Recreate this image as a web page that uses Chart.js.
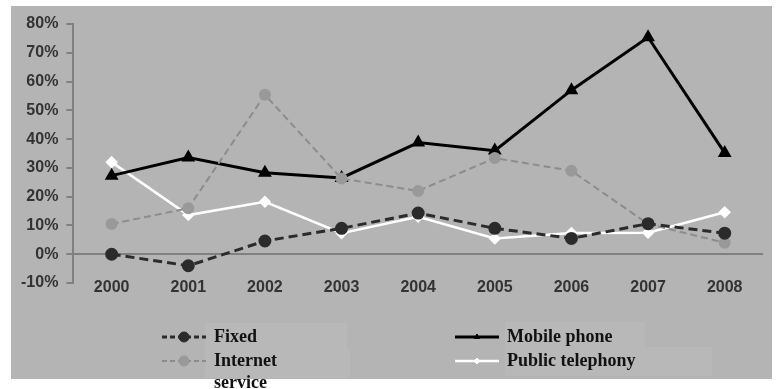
<!DOCTYPE html>
<html lang="en">
<head>
    <meta charset="UTF-8">
    <title>Growth by service</title>
    <style>
        body { margin: 0; background: #fff; }
        #wrap { width: 776px; height: 389px; position: relative; }
    </style>
</head>
<body>
    <div id="wrap"><canvas id="myChart"></canvas></div>
    <script src="https://cdn.jsdelivr.net/npm/chart.js"></script>
    <script>
  const years = ['2000', '2001', '2002', '2003', '2004', '2005', '2006', '2007', '2008'];
  const fixed = [0, -4, 4.6, 9, 14.3, 9, 5.5, 10.6, 7.3];
  const internet = [10.5, 16, 55.4, 26.3, 22, 33.4, 29, 10.5, 4];
  const mobile = [27.3, 33.6, 28.3, 26.5, 38.8, 36, 57, 75.4, 35.2];
  const publicPhone = [32, 13.6, 18.2, 7.3, 13, 5.5, 7.4, 7.5, 14.6];
  const yTicks = [-10, 0, 10, 20, 30, 40, 50, 60, 70, 80];

  // legend entries: [label lines, dataset index, column, row]
  const legendItems = [
    [['Fixed'], 0, 0, 0],
    [['Internet', 'service'], 1, 0, 1],
    [['Mobile phone'], 2, 1, 0],
    [['Public telephony'], 3, 1, 1]
  ];

  const panelPlugin = {
    id: 'panel',
    beforeDraw(chart) {
      const ctx = chart.ctx;
      ctx.save();
      ctx.fillStyle = '#b4b4b4';
      ctx.fillRect(11, 6, 761, 373);
      // faint boxes behind legend texts
      ctx.fillStyle = '#b8b8b8';
      ctx.fillRect(205, 323, 142, 27);
      ctx.fillRect(205, 350, 145, 28);
      ctx.fillRect(505, 322, 140, 25);
      ctx.fillRect(505, 347, 207, 29);
      ctx.restore();
    },
    afterDraw(chart) {
      const ctx = chart.ctx;
      const colX = [162, 455];
      const rowY = [337, 361];
      ctx.save();
      legendItems.forEach(([lines, di, col, row]) => {
        const ds = chart.data.datasets[di];
        const x = colX[col], y = rowY[row];
        ctx.beginPath();
        ctx.strokeStyle = ds.borderColor;
        ctx.lineWidth = ds.borderWidth;
        ctx.setLineDash(di < 2 ? [5, 3] : []);
        ctx.moveTo(x, y);
        ctx.lineTo(x + 44, y);
        ctx.stroke();
        ctx.setLineDash([]);
        ctx.fillStyle = ds.pointBackgroundColor;
        ctx.strokeStyle = ds.pointBorderColor;
        ctx.lineWidth = 1;
        Chart.helpers.drawPoint(ctx, {
          pointStyle: ds.pointStyle,
          radius: di < 2 ? 5 : 3,
          borderWidth: 1
        }, x + 22, y);
        ctx.fillStyle = '#111';
        ctx.font = 'bold 18px "Liberation Serif", serif';
        ctx.textBaseline = 'middle';
        lines.forEach((t, i) => ctx.fillText(t, x + 52, y + i * 22));
      });
      ctx.restore();
    }
  };

  new Chart(document.getElementById('myChart'), {
    type: 'line',
    data: {
      labels: years,
      datasets: [
        {
          label: 'Fixed', data: fixed,
          borderColor: '#2b2b2b', borderWidth: 3, borderDash: [9, 5],
          pointStyle: 'circle', pointRadius: 5,
          pointBackgroundColor: '#2b2b2b', pointBorderColor: '#2b2b2b'
        },
        {
          label: 'Internet service', data: internet,
          borderColor: '#8c8c8c', borderWidth: 2, borderDash: [7, 4],
          pointStyle: 'circle', pointRadius: 5,
          pointBackgroundColor: '#999999', pointBorderColor: '#999999'
        },
        {
          label: 'Mobile phone', data: mobile,
          borderColor: '#000000', borderWidth: 3,
          pointStyle: 'triangle', pointRadius: 5,
          pointBackgroundColor: '#000000', pointBorderColor: '#000000'
        },
        {
          label: 'Public telephony', data: publicPhone,
          borderColor: '#ffffff', borderWidth: 2.5,
          pointStyle: 'rectRot', pointRadius: 4.5,
          pointBackgroundColor: '#ffffff', pointBorderColor: '#ffffff'
        }
      ]
    },
    options: {
      responsive: true,
      maintainAspectRatio: false,
      animation: false,
      layout: { padding: { left: 13, right: 13, top: 24, bottom: 106 } },
      plugins: { legend: { display: false }, tooltip: { enabled: false } },
      scales: {
        x: {
          offset: true,
          grid: { display: false },
          border: { display: false },
          ticks: {
            color: '#333', mirror: true, padding: -14,
            font: { family: 'Liberation Sans', size: 16, weight: 'bold' }
          }
        },
        y: {
          min: yTicks[0],
          max: yTicks[yTicks.length - 1],
          afterBuildTicks: axis => { axis.ticks = yTicks.map(v => ({ value: v })); },
          border: { display: true, color: '#808080', width: 2 },
          grid: {
            color: ctx => ctx.tick && ctx.tick.value === 0 ? '#808080' : 'rgba(0,0,0,0)',
            lineWidth: 2,
            tickColor: '#808080',
            tickLength: 7
          },
          ticks: {
            color: '#333', padding: 8,
            font: { family: 'Liberation Sans', size: 16, weight: 'bold' },
            callback: v => v + '%'
          }
        }
      }
    },
    plugins: [panelPlugin]
  });
    </script>
</body>
</html>
